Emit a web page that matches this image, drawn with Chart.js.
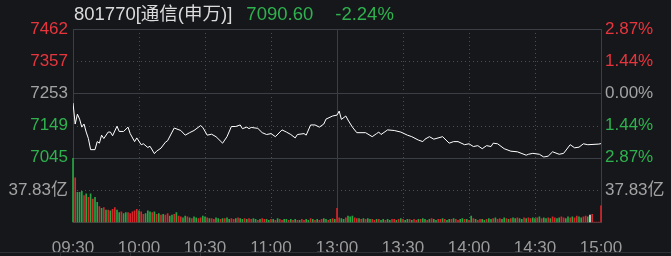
<!DOCTYPE html>
<html>
<head>
<meta charset="utf-8">
<script src="https://cdn.jsdelivr.net/npm/chart.js@4"></script>
<style>
html, body { margin: 0; padding: 0; background: #16171b; }
#wrap { position: relative; width: 671px; height: 256px; overflow: hidden; background: #16171b; }
#head { position: absolute; left: 74px; top: 3px; font: 18.5px 'Liberation Sans', 'Noto Sans CJK SC', sans-serif; white-space: nowrap; color: #dcdcdc; line-height: 22px; }
#head .g { color: #2fb24e; }
#foot { position: absolute; left: 0; top: 252px; width: 671px; height: 4px; border-top: 1px solid #2e3035; }
#foot span { position: absolute; top: 0; height: 4px; border-left: 1px solid #2e3035; }
canvas { position: absolute; left: 0; top: 0; }
</style>
</head>
<body>
<div id="wrap">
  <canvas id="c" width="671" height="256"></canvas>
  <div id="head">801770[通信(申万)]<span class="g" style="margin-left:14px">7090.60</span><span class="g" style="margin-left:22px">-2.24%</span></div>
  <div id="foot"><span style="left:60px"></span><span style="left:130px"></span><span style="left:200px"></span></div>
</div>
<script>
// time axis
var tickMinutes = [0, 30, 60, 90, 120, 150, 180, 210, 240];
var timeLabels = ['09:30', '10:00', '10:30', '11:00', '13:00', '13:30', '14:00', '14:30', '15:00'];

// price axis
var preClose = 7253;
var priceTicks = [7045, 7149, 7253, 7357, 7462];
var pctTicks = [-2.87, -1.44, 0, 1.44, 2.87];
var volMax = 75.66;
var volTick = 37.83;

// intraday index line (minute from open, value)
var priceMinutes = [0, 1, 2, 3, 4, 5, 6, 7, 8, 10, 11, 12, 13, 14, 16, 17, 18, 20, 21, 23,
  25, 26, 28, 29, 31, 32, 34, 35, 37, 38, 40, 42, 43, 46, 49, 51, 53, 55, 58, 59,
  61, 63, 65, 68, 70, 72, 74, 76, 77, 79, 80, 81, 84, 86, 88, 90, 92, 95, 97, 99,
  101, 102, 105, 106, 108, 110, 112, 114, 115, 118, 120, 121, 122, 124, 125, 127, 129, 133, 136, 138,
  139, 140, 143, 146, 149, 152, 154, 157, 159, 160, 162, 164, 165, 168, 171, 173, 175, 178, 180, 182,
  184, 186, 188, 190, 191, 193, 196, 199, 202, 206, 207, 209, 212, 214, 216, 218, 221, 223, 226, 228,
  230, 232, 234, 239, 240];
var priceValues = [7222, 7154, 7186, 7170, 7144, 7154, 7128, 7107, 7071, 7071, 7097, 7092, 7118, 7107, 7128, 7128, 7116, 7147, 7130, 7130,
  7144, 7123, 7097, 7109, 7087, 7090, 7078, 7082, 7058, 7066, 7076, 7095, 7100, 7141, 7133, 7118, 7126, 7133, 7149, 7143,
  7118, 7121, 7113, 7092, 7113, 7146, 7146, 7151, 7139, 7144, 7139, 7143, 7140, 7126, 7120, 7123, 7113, 7135, 7128, 7120,
  7109, 7120, 7123, 7118, 7151, 7151, 7144, 7154, 7170, 7180, 7183, 7196, 7169, 7180, 7167, 7144, 7126, 7126, 7113, 7123,
  7128, 7120, 7135, 7133, 7128, 7118, 7113, 7102, 7097, 7105, 7113, 7105, 7107, 7113, 7092, 7097, 7097, 7087, 7090, 7081,
  7084, 7074, 7084, 7081, 7092, 7090, 7074, 7066, 7064, 7053, 7056, 7059, 7056, 7047, 7050, 7064, 7056, 7059, 7087, 7077,
  7079, 7090, 7087, 7089, 7090.6];

// minute volume (亿) and direction R=up G=down W=flat
var volumes = [75, 52, 35, 35, 36, 31, 33, 29, 33, 27, 29, 23, 18, 16, 17, 14, 14, 13, 15, 17, 14,
  11, 12, 10, 11, 11, 10, 12, 13, 15, 13, 12, 9, 10, 13, 12, 11, 12, 9, 10, 8,
  9, 8, 10, 7, 8, 9, 11, 7, 6, 5, 7, 6, 5, 4, 6, 5, 4, 5, 7, 6,
  5, 4, 4, 3, 5, 4, 3, 4, 4, 5, 3, 4, 3, 4, 5, 4, 3, 4, 3, 4,
  3, 4, 3, 2, 3, 4, 3, 3, 2, 3, 3, 2, 4, 3, 2, 3, 3, 2, 3, 2,
  3, 2, 2, 3, 2, 3, 2, 4, 3, 2, 3, 2, 3, 4, 3, 2, 3, 4, 3,
  16,
  5, 4, 3, 5, 7, 6, 7, 5, 4, 4, 3, 4, 3, 4, 3, 3, 2, 3, 3, 2,
  3, 2, 3, 2, 3, 3, 2, 3, 4, 3, 2, 3, 3, 2, 3, 2, 3, 3, 4, 3,
  2, 3, 4, 3, 2, 3, 3, 4, 3, 2, 3, 3, 4, 3, 2, 3, 4, 3, 3, 2,
  7, 4, 3, 2, 3, 3, 2, 3, 4, 3, 4, 5, 3, 4, 3, 5, 4, 3, 4, 5,
  4, 5, 4, 3, 5, 4, 5, 4, 5, 4, 5, 6, 4, 5, 4, 5, 4, 6, 5, 4,
  5, 6, 5, 4, 6, 5, 6, 5, 7, 6, 5, 6, 7, 6, 8, 9, 0, 0, 0, 19];
var volDir = 'GRGGGRGRGRGGRGRGRGRRG' +
  'GRGGRRRRRGRRGGGRGRGR' +
  'GRRGGRGRRGGRGRGGRRGG' +
  'RGRRGGRGRGGRRGRGGRGR' +
  'RGGRGRRGGRGRGRRGGRGR' +
  'GRGRRGGRGRGRRGGRGRG' +
  'R' +
  'RGGRGGGRRGRGRGGRRGRG' +
  'GRGGRRGRGRGGRGRRGRGG' +
  'RGRGGRRGRGGRGRRGGRGR' +
  'GRGRRGGRGGRGRRGGRGRG' +
  'GRGGRGRRGGRGRGGRGRRG' +
  'GRRGGRGRRGGRRGWRRRRR';

var upColor = '#e8353d', downColor = '#2fb24e', flatColor = '#a3a3a3';
var barUp = '#d3272b', barDown = '#27a543';
var solidGrid = '#3b3e44', dotGrid = '#4a4d53';
var labelFont = { family: "'Liberation Sans', 'Noto Sans CJK SC', sans-serif", size: 17 };

var pricePoints = priceMinutes.map(function (m, i) { return { x: m, y: priceValues[i] }; });
var volPoints = volumes.map(function (v, i) { return { x: i, y: v }; });
var volColors = volumes.map(function (v, i) {
  var d = volDir.charAt(i);
  return d === 'R' ? barUp : d === 'G' ? barDown : '#e6e6e6';
});

function signColor(v, base) { return v > base + 1e-9 ? upColor : v < base - 1e-9 ? downColor : flatColor; }
function setTicks(list) { return function (s) { s.ticks = list.map(function (v) { return { value: v }; }); }; }
function fixWidth(w) { return function (s) { s.width = w; }; }

var gridPlugin = {
  id: 'grid',
  beforeDatasetsDraw: function (chart) {
    var c = chart.ctx;
    var sx = chart.scales.x, sy = chart.scales.y, sv = chart.scales.v;
    function hline(y, col, dash) {
      y = Math.round(y) + 0.5;
      c.strokeStyle = col; c.setLineDash(dash);
      c.beginPath(); c.moveTo(sx.left, y); c.lineTo(sx.right, y); c.stroke();
    }
    function vline(x, col, dash) {
      x = Math.round(x) + 0.5;
      c.strokeStyle = col; c.setLineDash(dash);
      c.beginPath(); c.moveTo(x, sy.top); c.lineTo(x, sv.bottom); c.stroke();
    }
    c.save();
    c.lineWidth = 1;
    hline(sy.getPixelForValue(priceTicks[1]), dotGrid, [1, 3]);
    hline(sy.getPixelForValue(priceTicks[3]), dotGrid, [1, 3]);
    hline(sv.getPixelForValue(volTick), dotGrid, [1, 3]);
    tickMinutes.forEach(function (m) {
      if (m === 0 || m === 240) return;
      if (m === 120) vline(sx.getPixelForValue(m), solidGrid, []);
      else vline(sx.getPixelForValue(m), dotGrid, [1, 3]);
    });
    hline(sy.getPixelForValue(preClose), solidGrid, []);
    hline(sy.getPixelForValue(priceTicks[0]), solidGrid, []);
    c.setLineDash([]);
    c.strokeStyle = solidGrid;
    c.strokeRect(Math.round(sx.left) + 0.5, Math.round(sy.top) + 0.5, Math.round(sx.right - sx.left), Math.round(sv.bottom - sy.top));
    c.restore();
  }
};

var ctx = document.getElementById('c').getContext('2d');

var myChart = new Chart(ctx, {
  type: 'bar',
  data: {
    datasets: [{
      type: 'line',
      data: pricePoints,
      yAxisID: 'y',
      borderColor: '#ffffff',
      borderWidth: 1,
      pointRadius: 0,
      tension: 0
    }, {
      type: 'bar',
      data: volPoints,
      yAxisID: 'v',
      backgroundColor: volColors,
      barThickness: 1,
      grouped: false,
      clip: 2
    }]
  },
  options: {
    responsive: false,
    animation: false,
    layout: { padding: { top: 29, left: 0, right: 0, bottom: 0 } },
    plugins: { legend: { display: false }, tooltip: { enabled: false } },
    scales: {
      x: {
        type: 'linear', min: 0, max: 240, offset: false,
        grid: { display: false }, border: { display: false },
        afterBuildTicks: setTicks(tickMinutes),
        afterFit: function (s) { s.height = 34; },
        ticks: {
          autoSkip: false, maxRotation: 0, padding: 8,
          color: '#9b9b9b',
          font: { family: "'Liberation Sans', sans-serif", size: 17 },
          callback: function (v) { return timeLabels[tickMinutes.indexOf(v)]; }
        }
      },
      // left side stacks bottom-up, so the volume axis comes first
      v: {
        position: 'left', stack: 'left', stackWeight: 1,
        min: 0, max: volMax,
        grid: { display: false, drawTicks: false }, border: { display: false },
        afterBuildTicks: setTicks([volTick]),
        afterFit: fixWidth(73),
        ticks: {
          autoSkip: false, padding: 5, font: labelFont, color: flatColor,
          callback: function (v) { return v.toFixed(2) + '亿'; }
        }
      },
      y: {
        position: 'left', stack: 'left', stackWeight: 2,
        min: priceTicks[0], max: priceTicks[priceTicks.length - 1],
        grid: { display: false, drawTicks: false }, border: { display: false },
        afterBuildTicks: setTicks(priceTicks),
        afterFit: fixWidth(73),
        ticks: {
          autoSkip: false, padding: 5, font: labelFont,
          color: function (ctx) { return signColor(ctx.tick.value, preClose); },
          callback: function (v) { return String(v); }
        }
      },
      yr: {
        position: 'right', stack: 'right', stackWeight: 2,
        min: pctTicks[0], max: pctTicks[pctTicks.length - 1],
        grid: { display: false, drawTicks: false }, border: { display: false },
        afterBuildTicks: setTicks(pctTicks),
        afterFit: fixWidth(70),
        ticks: {
          autoSkip: false, padding: 4, font: labelFont,
          color: function (ctx) { return signColor(ctx.tick.value, 0); },
          callback: function (v) { return Math.abs(v).toFixed(2) + '%'; }
        }
      },
      vr: {
        position: 'right', stack: 'right', stackWeight: 1,
        min: 0, max: volMax,
        grid: { display: false, drawTicks: false }, border: { display: false },
        afterBuildTicks: setTicks([volTick]),
        afterFit: fixWidth(70),
        ticks: {
          autoSkip: false, padding: 4, font: labelFont, color: flatColor,
          callback: function (v) { return v.toFixed(2) + '亿'; }
        }
      }
    }
  },
  plugins: [gridPlugin]
});
</script>
</body>
</html>
